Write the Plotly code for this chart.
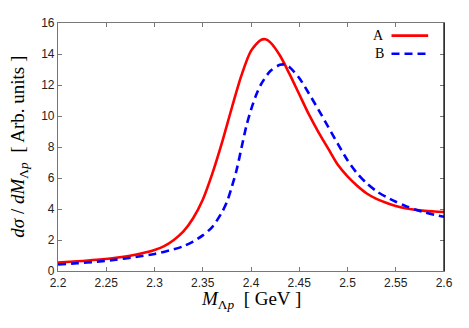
import plotly.graph_objects as go

# Data
mass_a = [2.20, 2.22, 2.24, 2.26, 2.28, 2.30, 2.31, 2.32, 2.33, 2.34, 2.35, 2.36, 2.37,
          2.38, 2.39, 2.40, 2.41, 2.415, 2.42, 2.43, 2.44, 2.45, 2.46, 2.47, 2.48, 2.49,
          2.50, 2.51, 2.52, 2.53, 2.54, 2.55, 2.56, 2.57, 2.58, 2.59, 2.60]
series_a = [0.55, 0.63, 0.73, 0.86, 1.05, 1.35, 1.6, 2.0, 2.55, 3.4, 4.6, 6.3, 8.3,
            10.5, 12.6, 14.2, 14.9, 14.95, 14.75, 13.9, 12.7, 11.4, 10.1, 8.95, 7.9, 6.85,
            6.1, 5.5, 5.0, 4.65, 4.4, 4.2, 4.05, 3.95, 3.88, 3.84, 3.81]

mass_b = [2.20, 2.22, 2.24, 2.26, 2.28, 2.30, 2.32, 2.33, 2.34, 2.35, 2.36, 2.37, 2.375,
          2.38, 2.385, 2.39, 2.395, 2.40, 2.405, 2.41, 2.42, 2.43, 2.435, 2.44, 2.45, 2.46,
          2.47, 2.48, 2.49, 2.50, 2.51, 2.52, 2.53, 2.54, 2.55, 2.56, 2.57, 2.58, 2.59, 2.60]
series_b = [0.42, 0.5, 0.6, 0.73, 0.9, 1.1, 1.4, 1.6, 1.9, 2.3, 2.85, 3.8, 4.45,
            5.4, 6.5, 7.9, 9.3, 10.4, 11.3, 12.0, 12.9, 13.3, 13.32, 13.15, 12.45, 11.45,
            10.4, 9.3, 8.2, 7.15, 6.3, 5.65, 5.15, 4.78, 4.47, 4.2, 3.97, 3.78, 3.63, 3.5]

x_ticks = [2.2, 2.25, 2.3, 2.35, 2.4, 2.45, 2.5, 2.55, 2.6]
x_tick_labels = ["2.2", "2.25", "2.3", "2.35", "2.4", "2.45", "2.5", "2.55", "2.6"]
y_ticks = [0, 2, 4, 6, 8, 10, 12, 14, 16]

fig = go.Figure()
fig.add_trace(go.Scatter(x=mass_a, y=series_a, mode="lines", name="A",
                         line=dict(color="#ff0000", width=2.6, shape="spline", smoothing=0.8)))
fig.add_trace(go.Scatter(x=mass_b, y=series_b, mode="lines", name="B",
                         line=dict(color="#0000ff", width=2.6, dash="8px,5px", shape="spline", smoothing=0.8)))

axis_common = dict(showgrid=False, zeroline=False, showline=True, linecolor="#777777",
                   linewidth=1.2, mirror="ticks", ticks="inside", ticklen=4,
                   tickcolor="#777777", tickfont=dict(family="Liberation Sans, Arial", size=12, color="#222"))

# page body adds an 8px margin, so the figure is 8px smaller and margins shifted
fig.update_layout(
    width=461, height=320,
    margin=dict(l=50, r=25, t=8, b=57),
    paper_bgcolor="white", plot_bgcolor="white",
    showlegend=False,
    xaxis=dict(range=[2.2, 2.6], tickvals=x_ticks, ticktext=x_tick_labels, **axis_common),
    yaxis=dict(range=[0, 16], tickvals=y_ticks, **axis_common),
)

# right border drawn darker as in reference
fig.add_shape(type="line", xref="paper", yref="paper", x0=1, x1=1, y0=0, y1=1,
              line=dict(color="black", width=1.2))

# axis titles
fig.add_annotation(text="<i>dσ</i> / <i>dM</i><sub>Λ<i>p</i></sub>  [ Arb. units ]",
                   xref="paper", yref="paper", x=-0.102, y=0.5, textangle=-90,
                   showarrow=False, xanchor="center", yanchor="middle",
                   font=dict(family="Liberation Serif, Times New Roman", size=19, color="black"))
fig.add_annotation(text="<i>M</i><sub>Λ<i>p</i></sub>  [ GeV ]",
                   xref="paper", yref="paper", x=0.5, y=-0.116,
                   showarrow=False, xanchor="center", yanchor="middle",
                   font=dict(family="Liberation Serif, Times New Roman", size=19, color="black"))

# legend drawn manually (text left of sample line, as in reference)
legend_items = [("A", "#ff0000", "solid", 0.949), ("B", "#0000ff", "8px,5px", 0.876)]
for label, color, dash, yy in legend_items:
    fig.add_annotation(text=label, xref="paper", yref="paper", x=0.85, y=yy,
                       showarrow=False, xanchor="right", yanchor="middle",
                       font=dict(family="Liberation Serif, Times New Roman", size=14, color="black"))
    fig.add_shape(type="line", xref="paper", yref="paper", x0=0.864, x1=0.959, y0=yy, y1=yy,
                  line=dict(color=color, width=2.6, dash=dash))

fig.write_html("out.html")
